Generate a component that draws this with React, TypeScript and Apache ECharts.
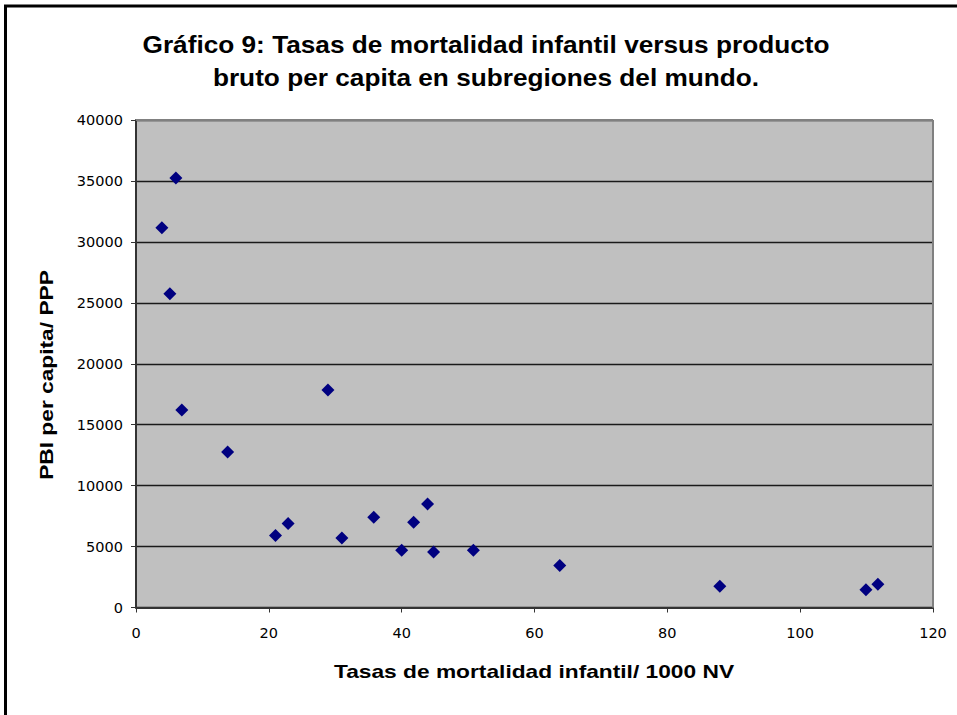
import React, { useEffect, useRef } from "react";
import * as echarts from "echarts";

const titleLines = [
  "Gráfico 9: Tasas de mortalidad infantil versus producto",
  "bruto per capita en subregiones del mundo.",
];
const xAxisName = "Tasas de mortalidad infantil/ 1000 NV";
const yAxisName = "PBI per capita/ PPP";

const mortalidad = [6, 3.9, 5.1, 6.9, 13.8, 28.9, 21, 22.9, 31, 35.8, 40, 41.8, 43.9, 44.8, 50.8, 63.8, 87.9, 109.9, 111.7];
const pbi = [35250, 31150, 25750, 16200, 12750, 17850, 5900, 6900, 5700, 7400, 4700, 7000, 8500, 4550, 4700, 3450, 1750, 1450, 1900];

export default function App() {
  const ref = useRef<HTMLDivElement>(null);
  useEffect(() => {
    if (!ref.current) return;
    const chart = echarts.init(ref.current, null, { renderer: "svg" });
    const font = "'Liberation Sans', Arial, sans-serif";
    const tickFont = "'DejaVu Sans', sans-serif";
    chart.setOption({
      animation: false,
      backgroundColor: "#ffffff",
      grid: { left: 136, top: 120, width: 797, height: 487.5, show: true, backgroundColor: "#C0C0C0", borderWidth: 0 },
      xAxis: {
        type: "value",
        min: 0,
        max: 120,
        interval: 20,
        axisLine: { show: true, onZero: false, lineStyle: { color: "#333333", width: 2 } },
        axisTick: { show: true, inside: false, length: 5, lineStyle: { color: "#333333" } },
        axisLabel: { color: "#000", fontFamily: tickFont, fontSize: 14.5, margin: 18 },
        splitLine: { show: false },
      },
      yAxis: {
        type: "value",
        min: 0,
        max: 40000,
        interval: 5000,
        axisLine: { show: true, onZero: false, lineStyle: { color: "#333333", width: 2 } },
        axisTick: { show: true, inside: false, length: 5, lineStyle: { color: "#333333" } },
        axisLabel: { color: "#000", fontFamily: tickFont, fontSize: 14.5, margin: 13, formatter: (v: number) => String(v) },
        splitLine: { show: true, lineStyle: { color: "#1a1a1a", width: 1.3 } },
      },
      graphic: [
        {
          type: "rect",
          shape: { x: 5.5, y: 6, width: 1000, height: 800 },
          style: { fill: "none", stroke: "#000", lineWidth: 3 },
          z: 0,
        },
        {
          type: "line",
          shape: { x1: 136, y1: 120, x2: 933, y2: 120 },
          style: { stroke: "#808080", lineWidth: 2 },
          z: 10,
        },
        {
          type: "line",
          shape: { x1: 933, y1: 120, x2: 933, y2: 607.5 },
          style: { stroke: "#808080", lineWidth: 2 },
          z: 10,
        },
        {
          type: "text",
          x: 486,
          y: 45,
          scaleX: 1.14,
          style: { text: titleLines[0], fontFamily: font, fontWeight: "bold", fontSize: 23, fill: "#000", align: "center", verticalAlign: "middle" },
        },
        {
          type: "text",
          x: 486,
          y: 78,
          scaleX: 1.14,
          style: { text: titleLines[1], fontFamily: font, fontWeight: "bold", fontSize: 23, fill: "#000", align: "center", verticalAlign: "middle" },
        },
        {
          type: "text",
          x: 534,
          y: 672,
          scaleX: 1.3,
          style: { text: xAxisName, fontFamily: font, fontWeight: "bold", fontSize: 17.5, fill: "#000", align: "center", verticalAlign: "middle" },
        },
        {
          type: "text",
          x: 47,
          y: 375,
          rotation: Math.PI / 2,
          scaleX: 1.3,
          style: { text: yAxisName, fontFamily: font, fontWeight: "bold", fontSize: 17.5, fill: "#000", align: "center", verticalAlign: "middle" },
        },
      ],
      series: [
        {
          type: "scatter",
          symbol: "diamond",
          symbolSize: 13,
          itemStyle: { color: "#000080", opacity: 1 },
          data: mortalidad.map((m, i) => [m, pbi[i]]),
          z: 20,
        },
      ],
    });
    return () => chart.dispose();
  }, []);
  return <div ref={ref} style={{ position: "fixed", left: 0, top: 0, width: 957, height: 715 }} />;
}
